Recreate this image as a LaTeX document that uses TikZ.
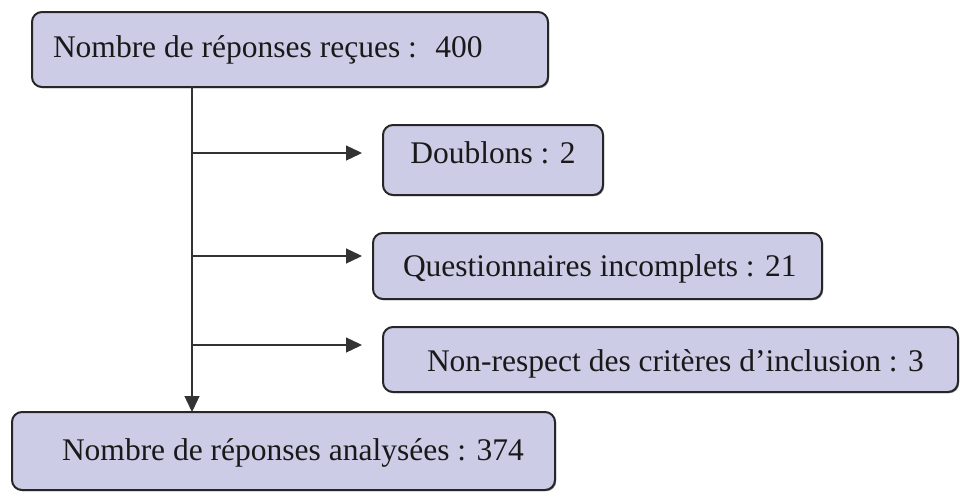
\documentclass[tikz,border=0pt]{standalone}
\usepackage{fontspec}
\setmainfont{Liberation Serif}
\usetikzlibrary{arrows.meta,shadows}
\definecolor{boxfill}{RGB}{204,204,230}
\definecolor{boxline}{RGB}{38,38,38}
\tikzset{
  flowbox/.style={draw=boxline, line width=2pt, fill=boxfill, rounded corners=10pt,
    inner sep=0pt, outer sep=0pt,
    drop shadow={shadow xshift=1.2pt, shadow yshift=-1.2pt, fill=black, opacity=0.45}},
  boxtext/.style={inner sep=0pt, outer sep=0pt, text=black!90,
    font=\fontsize{31.5}{36}\selectfont},
  conn/.style={draw=black!80, line width=1.3pt, -{Triangle[length=16pt,width=15pt]}}
}
\begin{document}
\begin{tikzpicture}[x=1pt,y=-1pt]
\useasboundingbox (0,0) rectangle (972,493);
% boxes
\node[flowbox, minimum width=516pt, minimum height=75pt] (top) at (290,49.5) {};
\node[flowbox, minimum width=220pt, minimum height=70pt] (dbl) at (493,160) {};
\node[flowbox, minimum width=449pt, minimum height=66pt] (inc) at (597.5,266) {};
\node[flowbox, minimum width=575pt, minimum height=65pt] (crit) at (670.5,359.5) {};
\node[flowbox, minimum width=543pt, minimum height=78pt] (bot) at (283.5,451) {};
% texts
\node[boxtext, anchor=base west] (ttop) at (53,57) {Nombre de réponses reçues :~ 400};
\node[boxtext, anchor=base] (tdbl) at (493,163) {Doublons : 2};
\node[boxtext, anchor=base west] (tinc) at (403,276) {Questionnaires incomplets : 21};
\node[boxtext, anchor=base west] (tcrit) at (427,371) {Non-respect des critères d’inclusion : 3};
\node[boxtext, anchor=base west] (tbot) at (62,460) {Nombre de réponses analysées : 374};
% connectors
\coordinate (vx) at (192,0);
\coordinate (j1) at (192,153);
\coordinate (j2) at (192,256);
\coordinate (j3) at (192,345);
\draw[conn] (top.south -| vx) -- (bot.north -| vx);
\draw[conn, shorten >=21pt] (j1) -- (j1 -| dbl.west);
\draw[conn, shorten >=11pt] (j2) -- (j2 -| inc.west);
\draw[conn, shorten >=21pt] (j3) -- (j3 -| crit.west);
\end{tikzpicture}
\end{document}
